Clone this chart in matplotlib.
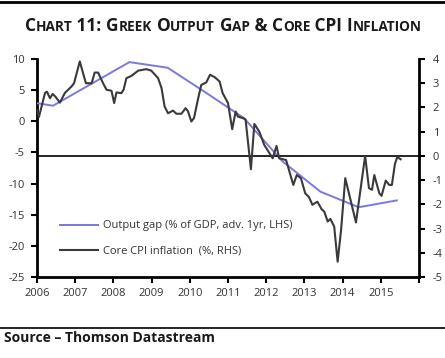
import matplotlib
matplotlib.use("Agg")
import matplotlib.pyplot as plt
from matplotlib.lines import Line2D
from matplotlib.font_manager import FontProperties

# ---- data ----
gap_x = [2006.0, 2006.42, 2007.42, 2008.42, 2009.42, 2010.42, 2011.42, 2012.42, 2013.42, 2014.42, 2015.42]
gap_y = [2.9, 2.5, 6.0, 9.5, 8.6, 4.6, 0.5, -6.4, -11.3, -13.8, -12.7]

cpi_x = [2006.00, 2006.05, 2006.21, 2006.26, 2006.34, 2006.41, 2006.48, 2006.60, 2006.73, 2006.90,
         2006.97, 2007.12, 2007.28, 2007.43, 2007.51, 2007.60, 2007.73, 2007.82, 2007.95, 2008.02,
         2008.08, 2008.21, 2008.27, 2008.34, 2008.47, 2008.65, 2008.86, 2008.99, 2009.17, 2009.26,
         2009.34, 2009.43, 2009.56, 2009.65, 2009.78, 2009.89, 2009.95, 2010.04, 2010.11, 2010.21,
         2010.30, 2010.43, 2010.53, 2010.65, 2010.73, 2010.78, 2010.86, 2011.00, 2011.11, 2011.20,
         2011.26, 2011.39, 2011.46, 2011.60, 2011.69, 2011.82, 2011.95, 2012.17, 2012.27, 2012.34,
         2012.52, 2012.71, 2012.80, 2012.91, 2013.02, 2013.12, 2013.21, 2013.34, 2013.45, 2013.52,
         2013.61, 2013.68, 2013.78, 2013.87, 2013.96, 2014.07, 2014.35, 2014.59, 2014.69, 2014.77,
         2014.83, 2014.96, 2015.02, 2015.13, 2015.22, 2015.29, 2015.37, 2015.43, 2015.52]
cpi_y = [1.9, 1.6, 2.6, 2.65, 2.38, 2.56, 2.45, 2.2, 2.6, 2.86,
         3.0, 3.9, 3.0, 3.0, 3.44, 3.44, 3.0, 2.73, 2.69, 2.18,
         2.62, 2.59, 2.75, 3.21, 3.3, 3.52, 3.58, 3.52, 3.21, 2.8,
         2.04, 1.76, 1.87, 1.74, 1.74, 1.97, 1.85, 1.42, 1.56, 2.31,
         2.93, 3.03, 3.35, 3.25, 3.14, 3.07, 2.59, 2.18, 1.1, 1.83,
         1.62, 1.56, 1.5, -0.55, 1.32, 1.0, 0.45, -0.1, 0.41, -0.1,
         -0.17, -1.2, -0.79, -0.92, -1.54, -1.7, -2.02, -1.89, -2.2, -2.3,
         -2.71, -2.6, -2.92, -4.37, -3.06, -0.92, -2.75, 0.0, -1.33, -1.4,
         -0.79, -1.54, -1.65, -1.02, -1.2, -1.2, -0.33, -0.05, -0.14]

year_ticks = list(range(2006, 2017))
year_labels = [str(y) for y in range(2006, 2016)] + [""]
lhs_ticks = [10, 5, 0, -5, -10, -15, -20, -25]
rhs_ticks = [4, 3, 2, 1, 0, -1, -2, -3, -4, -5]

title_pieces = [("C", 1), ("HART", 0), (" 11: ", 1), ("G", 1), ("REEK", 0), (" ", 1), ("O", 1),
                ("UTPUT", 0), (" ", 1), ("G", 1), ("AP", 0), (" & ", 1), ("C", 1), ("ORE", 0),
                (" CPI ", 1), ("I", 1), ("NFLATION", 0)]
label_gap = "Output gap (% of GDP, adv. 1yr, LHS)"
label_cpi = "Core CPI inflation  (%, RHS)"
source_text = "Source \u2013 Thomson Datastream"

# ---- style ----
FONT = "Open Sans"
plt.rcParams['font.family'] = [FONT, 'DejaVu Sans']
TXT = "#333333"
BLUE = "#7b78e0"
DARK = "#3a3a3a"

W, H = 445, 358
fig = plt.figure(figsize=(W / 100, H / 100), dpi=100)
fig.patch.set_facecolor("white")

ax = fig.add_axes([37 / W, 1 - 277 / H, (419 - 37) / W, (277 - 59) / H])
ax2 = ax.twinx()

l1, = ax.plot(gap_x, gap_y, color=BLUE, lw=1.4, label=label_gap, zorder=3)
ax2.axhline(0, color="black", lw=1.2, zorder=1)
l2, = ax2.plot(cpi_x, cpi_y, color=DARK, lw=1.5, label=label_cpi, zorder=2)

ax.set_xlim(2006, 2016)
ax.set_ylim(-25, 10)
ax2.set_ylim(-5, 4)
ax.set_xticks(year_ticks)
ax.set_xticklabels(year_labels)
ax.set_yticks(lhs_ticks)
ax.set_yticklabels([str(t) for t in lhs_ticks])
ax2.set_yticks(rhs_ticks)
ax2.set_yticklabels([str(t) for t in rhs_ticks])

for a in (ax, ax2):
    a.spines['top'].set_visible(False)
    for s in ('left', 'right', 'bottom'):
        a.spines[s].set_linewidth(2.0)
        a.spines[s].set_color("black")
    a.tick_params(direction='out', length=4, width=1.5, colors="black",
                  labelcolor=TXT, labelsize=8)
ax.tick_params(axis='y', pad=5)
ax2.tick_params(axis='y', pad=6)
ax.tick_params(axis='x', pad=4)
ax.spines['right'].set_visible(False)
ax2.spines['left'].set_visible(False)
ax2.spines['bottom'].set_visible(False)

leg = ax.legend(handles=[l1, l2], loc='upper left',
                bbox_to_anchor=(19 / (419 - 37), (277 - 216) / (277 - 59)),
                frameon=False, fontsize=8, handlelength=3.4, handletextpad=0.45,
                labelspacing=1.3, labelcolor=TXT, borderaxespad=0)

# top and bottom rules
fig.add_artist(Line2D([0, 1], [1 - 2 / H, 1 - 2 / H], transform=fig.transFigure, color="black", lw=2))
fig.add_artist(Line2D([0, 1], [1 - 328 / H, 1 - 328 / H], transform=fig.transFigure, color="black", lw=1.2))

fig.text(4 / W, 1 - 337.5 / H, source_text, fontsize=10, fontweight='bold', color="#1a1a1a",
         va='center', ha='left')

# small-caps title
renderer = fig.canvas.get_renderer()
big, small = 12.4, 9.8
widths = []
for s, isbig in title_pieces:
    fp = FontProperties(family=FONT, weight='bold', size=big if isbig else small)
    w, h, d = renderer.get_text_width_height_descent(s, fp, ismath=False)
    widths.append(w)
total = sum(widths)
x0 = 223 - total / 2
ybase = 1 - 31 / H
for (s, isbig), w in zip(title_pieces, widths):
    fig.text(x0 / W, ybase, s, fontsize=big if isbig else small, fontweight='bold',
             color="#1a1a1a", va='baseline', ha='left', family=FONT)
    x0 += w * 100 / fig.dpi

fig.savefig("out.png", dpi=100, facecolor="white")
